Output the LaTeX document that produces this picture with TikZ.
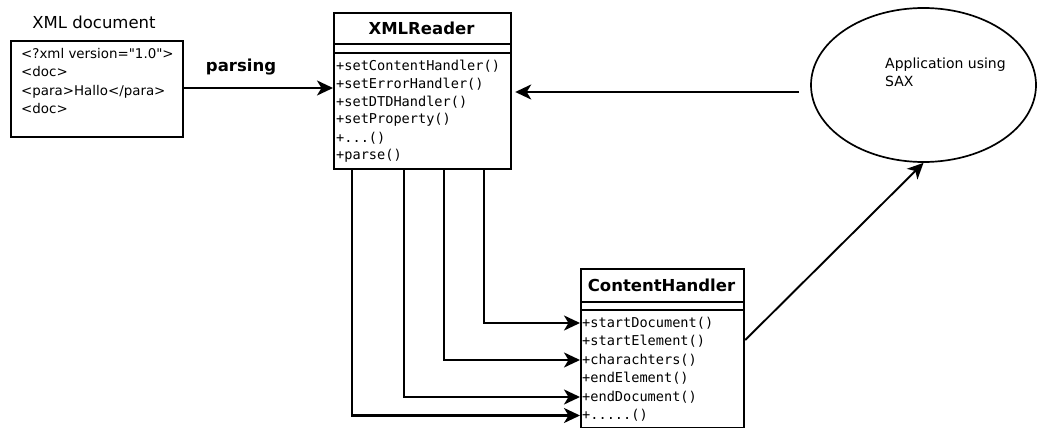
\documentclass[tikz,border=0pt]{standalone}
\usepackage{fontspec}
\setmainfont{DejaVu Sans}
\setmonofont{DejaVu Sans Mono}
\usetikzlibrary{arrows.meta,positioning,shapes.geometric}

\tikzset{
  umlbox/.style={draw, line width=2.2pt, anchor=north west, inner sep=0pt},
  flow/.style={line width=2.2pt, -{Stealth[length=16pt,width=15pt,inset=4.5pt]}},
  method/.style={anchor=west, inner sep=1pt, font=\ttfamily\fontsize{13.6}{15}\selectfont},
  xmlline/.style={anchor=base west, inner sep=0pt, font=\fontsize{13.4}{16}\selectfont},
  umltitle/.style={font=\bfseries\fontsize{16.5}{18}\selectfont},
}

\begin{document}
\begin{tikzpicture}[x=1pt,y=-1pt]
\useasboundingbox (0,0) rectangle (1038,428);

% input document
\node[font=\fontsize{16.5}{18}\selectfont] (doclabel) at (94,22) {XML document};
\node[umlbox, minimum width=172pt, minimum height=96pt] (xmldoc) at (10,40) {};
\foreach \t [count=\i] in {{<?xml version=\textquotedbl 1.0\textquotedbl>}, {<doc>}, {<para>Hallo</para>}, {<doc>}}
  \node[xmlline] (line\i) at (21,41+18*\i) {\t};

% the reader
\node[umlbox, minimum width=177pt, minimum height=156pt] (reader) at (333,12) {};
\node[umltitle] (readertitle) at (421.5,28) {XMLReader};
\draw[line width=2.2pt] (333,44) -- (510,44);
\draw[line width=2.2pt] (333,53) -- (510,53);
\foreach \t [count=\i] in {+setContentHandler(), +setErrorHandler(), +setDTDHandler(), +setProperty(), {+.{}.{}.()}, +parse()}
  \node[method] (r\i) at (335,48+18*\i) {\t};

% the handler
\node[umlbox, minimum width=163pt, minimum height=159pt] (handler) at (580,268) {};
\node[umltitle] (handlertitle) at (661.5,285) {ContentHandler};
\draw[line width=2.2pt] (580,302) -- (743,302);
\draw[line width=2.2pt] (580,310) -- (743,310);
\foreach \t [count=\i] in {+startDocument(), +startElement(), +charachters(), +endElement(), +endDocument(), {+.{}.{}.{}.{}.()}}
  \node[method] (h\i) at (581,304.5+18.5*\i) {\t};

% application
\node[draw, ellipse, line width=1.7pt, minimum width=225pt, minimum height=154pt] (app) at (923.5,85) {};
\node[anchor=north west, align=left, inner sep=0pt, font=\fontsize{14}{18}\selectfont] (apptext) at (885,58) {Application using\\SAX};

% connectors
\draw[flow] (xmldoc.east |- 0,88) -- (reader.west |- 0,88);
\node[above, font=\bfseries\fontsize{16.5}{18}\selectfont] (parsing) at (241,79) {parsing};
\draw[flow] ([xshift=-11pt,yshift=-7pt]app.west) -- ([xshift=3pt]reader.east |- 0,92);
\draw[flow] (reader.south -| 484,0) |- (h1.west -| handler.west);
\draw[flow] (reader.south -| 444,0) |- (h3.west -| handler.west);
\draw[flow] (reader.south -| 404,0) |- (h5.west -| handler.west);
\draw[flow] (reader.south -| 352,0) |- (h6.west -| handler.west);
\draw[flow, line width=1.9pt] (handler.east |- 0,340) -- (app.south);
\end{tikzpicture}
\end{document}
